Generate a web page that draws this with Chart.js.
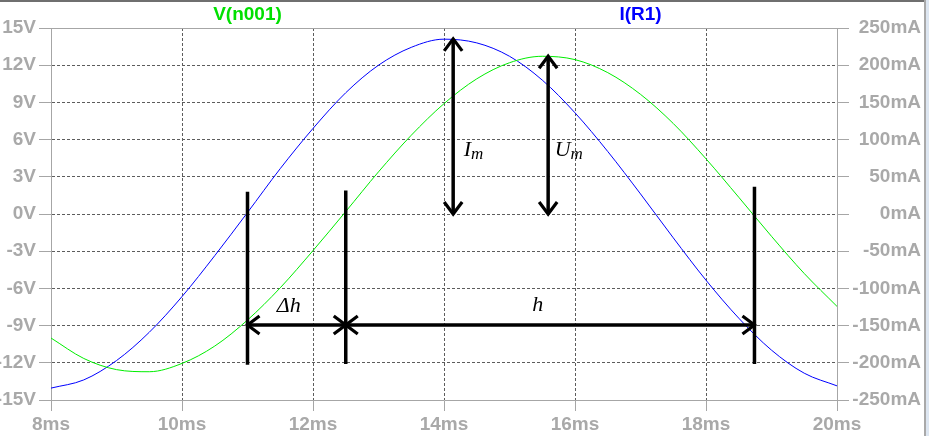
<!DOCTYPE html>
<html><head><meta charset="utf-8">
<script src="https://cdn.jsdelivr.net/npm/chart.js@4.4.1/dist/chart.umd.min.js"></script>
<style>html,body{margin:0;padding:0;background:#fff;overflow:hidden}canvas{display:block}</style>
</head><body>
<canvas id="c" width="929" height="436"></canvas>
<script>
// ---- data ----
const timeMs = [8,8.5,9,9.5,10,10.5,11,11.5,12,12.5,13,13.5,14,14.5,15,15.5,16,16.5,17,17.5,18,18.5,19,19.5,20];
const vN001 = [-10.0,-11.65,-12.55,-12.72,-12.05,-10.65,-8.55,-5.95,-2.95,0.2,3.4,6.35,8.9,10.9,12.2,12.72,12.45,11.4,9.65,7.3,4.45,1.35,-1.8,-4.8,-7.45];
const iR1 = [-234,-223,-197,-159,-111,-56,2,61,115,163,200,224,235,230,212,180,136,84,27,-32,-89,-140,-183,-214,-231];
const seriesNames = ['V(n001)', 'I(R1)'];
const xTickValues = [8,10,12,14,16,18,20];
const vTickValues = [-15,-12,-9,-6,-3,0,3,6,9,12,15];
const iTickValues = [-250,-200,-150,-100,-50,0,50,100,150,200,250];
const xUnit = 'ms', vUnit = 'V', iUnit = 'mA';

// annotation marks (ms, V)
const markerTimes = [11.0, 12.5, 18.74];
const markerTops = [1.8, 1.9, 2.2];
const markerBottoms = [-12.15, -12.1, -12.1];
const spanLevel = -8.95;
const peakTimes = [14.14, 15.59];
const peakTops = [14.12, 12.72];
const peakBase = 0;
const annoTexts = ['Δh', 'h', 'I', 'U'];
const annoSub = ['', '', 'm', 'm'];
const annoAnchors = [[11.63, -7.94], [15.43, -7.8], [14.30, 4.65], [15.69, 4.7]];

// ---- styling ----
const gridDark = '#5c5c5c';
const frameGray = '#a6a6a6';
const labelGray = '#a9a9a9';
const tickFont = {family: "'Liberation Sans', Arial, sans-serif", size: 19, weight: 'bold'};
const clear = 'rgba(0,0,0,0)';

const pts = (xs, ys) => xs.map((x, i) => ({x, y: ys[i]}));
const blackLine = (data) => ({type: 'line', data, borderColor: '#000', borderWidth: 3.5, pointRadius: 0,
  tension: 0, fill: false, yAxisID: 'y', order: 0, borderCapStyle: 'butt'});

const datasets = [];
markerTimes.forEach((t, i) => datasets.push(blackLine([{x: t, y: markerTops[i]}, {x: t, y: markerBottoms[i]}])));
datasets.push(blackLine([{x: markerTimes[0], y: spanLevel}, {x: markerTimes[1], y: spanLevel}]));
datasets.push(blackLine([{x: markerTimes[1], y: spanLevel}, {x: markerTimes[2], y: spanLevel}]));
peakTimes.forEach((t, i) => datasets.push(blackLine([{x: t, y: peakBase}, {x: t, y: peakTops[i]}])));
datasets.push({type: 'line', label: seriesNames[0], data: pts(timeMs, vN001), yAxisID: 'y', borderColor: '#00ee00',
  borderWidth: 1, pointRadius: 0, cubicInterpolationMode: 'monotone', order: 1});
datasets.push({type: 'line', label: seriesNames[1], data: pts(timeMs, iR1), yAxisID: 'y1', borderColor: '#0000ff',
  borderWidth: 1, pointRadius: 0, cubicInterpolationMode: 'monotone', order: 1});

const framePlugin = {
  id: 'frame',
  beforeDraw(chart) {
    const c = chart.ctx;
    c.save();
    c.fillStyle = '#fff'; c.fillRect(0, 0, chart.width, chart.height);
    c.fillStyle = '#6f6f6f'; c.fillRect(0, 0, 925, 2);
    c.fillStyle = '#a9a9a9'; c.fillRect(924, 0, 2, chart.height);
    c.fillStyle = '#dde6f1'; c.fillRect(926, 0, 3, chart.height);
    c.restore();
  }
};

function head(c, tx, ty, dx, dy) {
  const L = 12, W = 9;
  const bx = tx - dx * L, by = ty - dy * L;
  const px = -dy, py = dx;
  c.beginPath();
  c.moveTo(bx + px * W, by + py * W);
  c.lineTo(tx, ty);
  c.lineTo(bx - px * W, by - py * W);
  c.stroke();
}

const annoPlugin = {
  id: 'anno',
  afterDatasetsDraw(chart) {
    const c = chart.ctx, xs = chart.scales.x, ys = chart.scales.y;
    c.save();
    c.strokeStyle = '#000'; c.lineWidth = 3.2; c.lineCap = 'butt'; c.lineJoin = 'miter';
    const yl = ys.getPixelForValue(spanLevel);
    const x0 = xs.getPixelForValue(markerTimes[0]), x1 = xs.getPixelForValue(markerTimes[1]), x2 = xs.getPixelForValue(markerTimes[2]);
    head(c, x0, yl, -1, 0); head(c, x1, yl, 1, 0);
    head(c, x1, yl, -1, 0); head(c, x2, yl, 1, 0);
    peakTimes.forEach((t, i) => {
      const px = xs.getPixelForValue(t);
      head(c, px, ys.getPixelForValue(peakTops[i]), 0, -1);
      head(c, px, ys.getPixelForValue(peakBase), 0, 1);
    });
    // texts
    c.fillStyle = '#000';
    c.textBaseline = 'alphabetic';
    annoTexts.forEach((txt, i) => {
      const ax = xs.getPixelForValue(annoAnchors[i][0]), ay = ys.getPixelForValue(annoAnchors[i][1]);
      c.font = "italic 22px 'Liberation Serif', 'DejaVu Serif', serif";
      if (annoSub[i]) {
        c.textAlign = 'left';
        c.fillText(txt, ax, ay);
        const w = c.measureText(txt).width;
        c.font = "italic 17px 'Liberation Serif', 'DejaVu Serif', serif";
        c.fillText(annoSub[i], ax + w, ay + 3);
      } else {
        c.textAlign = 'center';
        c.fillText(txt, ax, ay);
      }
    });
    // trace titles
    const a = chart.chartArea;
    c.font = "bold 19px 'Liberation Sans', Arial, sans-serif";
    c.textAlign = 'center'; c.textBaseline = 'middle';
    c.fillStyle = '#00e000';
    c.fillText(seriesNames[0], a.left + 0.25 * (a.right - a.left), 15);
    c.fillStyle = '#0000ff';
    c.fillText(seriesNames[1], a.left + 0.75 * (a.right - a.left), 15);
    c.restore();
  }
};

new Chart(document.getElementById('c'), {
  type: 'line',
  data: {datasets},
  options: {
    responsive: false, animation: false, devicePixelRatio: 1,
    layout: {padding: {top: 28, left: 0, right: 8, bottom: 0}},
    plugins: {legend: {display: false}, tooltip: {enabled: false}},
    scales: {
      x: {
        type: 'linear', position: 'bottom', min: 8, max: 20,
        afterBuildTicks: s => { s.ticks = xTickValues.map(v => ({value: v})); },
        afterFit: s => { s.height = 36; },
        ticks: {callback: v => v + xUnit, color: labelGray, font: tickFont, padding: 2, maxRotation: 0, autoSkip: false},
        grid: {color: c => (c.tick && (c.tick.value === 8 || c.tick.value === 20)) ? clear : gridDark,
               lineWidth: 1, tickLength: 11, tickColor: frameGray, tickWidth: 1, tickBorderDash: []},
        border: {display: true, color: frameGray, width: 1, dash: [3, 2]}
      },
      y: {
        type: 'linear', position: 'left', min: -15, max: 15,
        afterBuildTicks: s => { s.ticks = vTickValues.map(v => ({value: v})); },
        afterFit: s => { s.width = 51; },
        ticks: {callback: v => v + vUnit, color: labelGray, font: tickFont, padding: 3, autoSkip: false},
        grid: {color: c => !c.tick ? gridDark : (c.tick.value === 15 ? frameGray : (c.tick.value === -15 ? clear : gridDark)),
               lineWidth: 1, tickLength: 12, tickColor: frameGray, tickWidth: 1, tickBorderDash: []},
        border: {display: true, color: frameGray, width: 1, dash: c => (c.tick && c.tick.value === 15) ? [] : [3, 2]}
      },
      y1: {
        type: 'linear', position: 'right', min: -250, max: 250,
        afterBuildTicks: s => { s.ticks = iTickValues.map(v => ({value: v})); },
        afterFit: s => { s.width = 84; },
        ticks: {callback: v => v + iUnit, color: labelGray, font: tickFont, padding: 3, crossAlign: 'far', autoSkip: false},
        grid: {drawOnChartArea: false, color: frameGray, tickLength: 12, tickColor: frameGray, tickWidth: 1, tickBorderDash: []},
        border: {display: true, color: frameGray, width: 1}
      }
    }
  },
  plugins: [framePlugin, annoPlugin]
});
</script>
</body></html>
